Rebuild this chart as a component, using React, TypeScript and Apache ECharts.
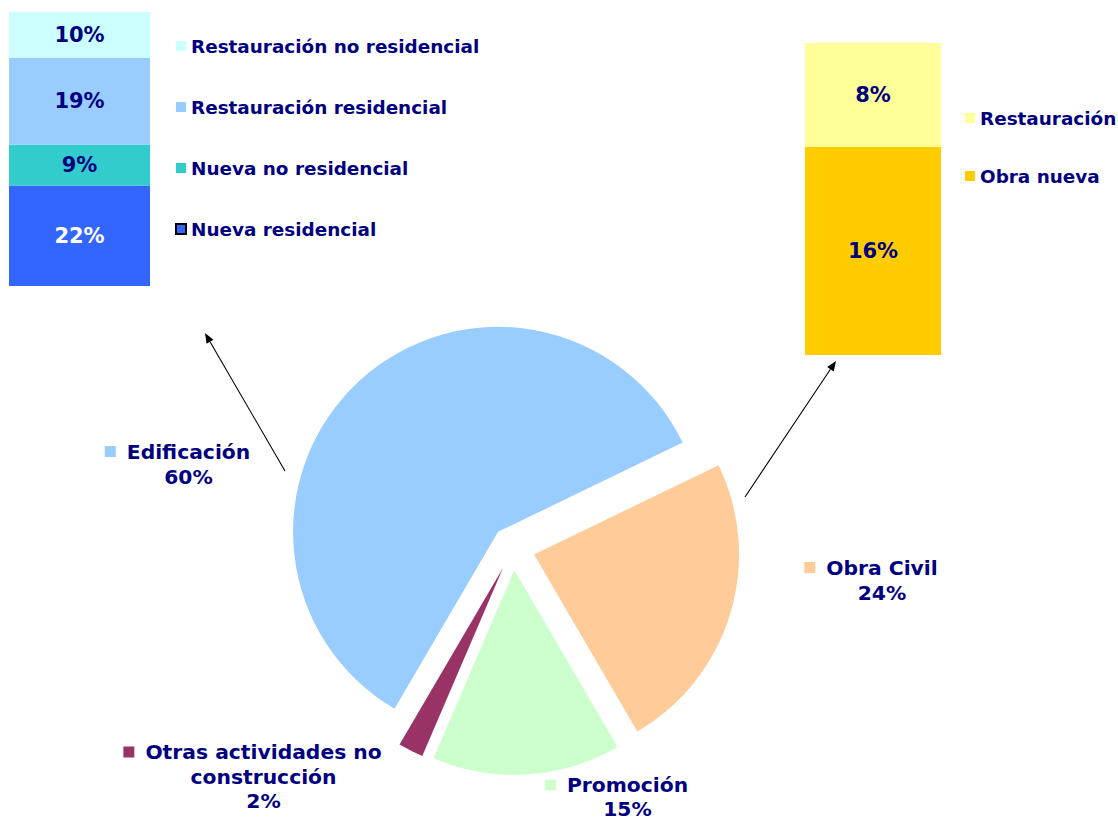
import React, { useEffect, useRef } from "react";
import * as echarts from "echarts";

// Pie data (clockwise from start angle)
const pieNames = ["Obra Civil", "Promoción", "Otras actividades no construcción", "Edificación"];
const pieLabelLines = [["Obra Civil"], ["Promoción"], ["Otras actividades no", "construcción"], ["Edificación"]];
const pieValues = [24, 15, 2, 60];
const pieColors = ["#FFCC99", "#CCFFCC", "#993366", "#99CCFF"];

// Edificación breakdown (bottom to top)
const edifNames = ["Nueva residencial", "Nueva no residencial", "Restauración residencial", "Restauración no residencial"];
const edifValues = [22, 9, 19, 10];
const edifColors = ["#3366FF", "#33CCCC", "#99CCFF", "#CCFFFF"];
const edifLabelColors = ["#FFFFFF", "#000080", "#000080", "#000080"];

// Obra civil breakdown (bottom to top)
const civilNames = ["Obra nueva", "Restauración"];
const civilValues = [16, 8];
const civilColors = ["#FFCC00", "#FFFF99"];

// layout constants
const NAVY = "#000080";
const FONT = "DejaVu Sans, Verdana, sans-serif";
const LEG_FS = 18.4;
const PIE_FS = 20.3;
const BAR_FS = 21;
const pieLabelPos = [
  [882, 580],
  [627.5, 797],
  [263.5, 776.5],
  [188.5, 464],
];
const pieLabelLH = [25, 24, 24.5, 25];
const arrows = [
  { from: [285, 471], to: [205, 333] },
  { from: [745, 497], to: [836, 361] },
];

function arrowGraphics() {
  const out: any[] = [];
  arrows.forEach((a) => {
    const dx = a.to[0] - a.from[0];
    const dy = a.to[1] - a.from[1];
    const len = Math.sqrt(dx * dx + dy * dy);
    const ux = dx / len;
    const uy = dy / len;
    const hl = 10;
    const hw = 4;
    const bx = a.to[0] - hl * ux;
    const by = a.to[1] - hl * uy;
    out.push({
      type: "line",
      shape: { x1: a.from[0], y1: a.from[1], x2: bx, y2: by },
      style: { stroke: "#000", lineWidth: 1.1 },
      silent: true,
    });
    out.push({
      type: "polygon",
      shape: {
        points: [
          [a.to[0], a.to[1]],
          [bx - hw * uy, by + hw * ux],
          [bx + hw * uy, by - hw * ux],
        ],
      },
      style: { fill: "#000" },
      silent: true,
    });
  });
  return out;
}

function pieLabelGraphics() {
  return pieNames.map((_, i) => {
    const lines = pieLabelLines[i];
    const lh = pieLabelLH[i];
    const first = `{k| }{g| }{t|${lines[0]}}{s| }`;
    const rest = lines.slice(1).map((l) => `{t|${l}}`);
    const text = [first, ...rest, `{t|${pieValues[i]}%}`].join("\n");
    return {
      type: "text",
      x: pieLabelPos[i][0],
      y: pieLabelPos[i][1],
      silent: true,
      style: {
        text,
        align: "center",
        verticalAlign: "middle",
        fontFamily: FONT,
        fontWeight: "bold",
        fontSize: PIE_FS,
        fill: NAVY,
        rich: {
          t: { fontFamily: FONT, fontWeight: "bold", fontSize: PIE_FS, fill: NAVY, lineHeight: lh },
          k: { width: 11, height: 11, backgroundColor: pieColors[i], lineHeight: lh },
          g: { width: 11, height: 11, lineHeight: lh },
          s: { width: 22, height: 11, lineHeight: lh },
        },
      },
    };
  });
}

export default function App() {
  const ref = useRef<HTMLDivElement>(null);
  useEffect(() => {
    if (!ref.current) return;
    const chart = echarts.init(ref.current, undefined, { renderer: "svg" });
    const legText = { fontFamily: FONT, fontWeight: "bold" as const, fontSize: LEG_FS, color: NAVY, lineHeight: 20 };

    const barSeries = (names: string[], values: number[], colors: string[], labelColors: string[] | null, stack: string, axisIdx: number) =>
      names.map((n, i) => ({
        type: "bar",
        name: n,
        stack,
        xAxisIndex: axisIdx,
        yAxisIndex: axisIdx,
        barWidth: "100%",
        data: [values[i]],
        itemStyle: { color: colors[i] },
        label: {
          show: true,
          position: "inside",
          formatter: "{c}%",
          fontFamily: FONT,
          fontWeight: "bold",
          fontSize: BAR_FS,
          color: labelColors ? labelColors[i] : NAVY,
        },
        emphasis: { disabled: true },
        silent: true,
      }));

    chart.setOption({
      animation: false,
      backgroundColor: "#FFFFFF",
      grid: [
        { left: 9, top: 12, width: 141, height: 274 },
        { left: 805, top: 43, width: 136, height: 312 },
      ],
      xAxis: [
        { type: "category", data: [""], gridIndex: 0, show: false },
        { type: "category", data: [""], gridIndex: 1, show: false },
      ],
      yAxis: [
        { type: "value", min: 0, max: 60, gridIndex: 0, show: false },
        { type: "value", min: 0, max: 24, gridIndex: 1, show: false },
      ],
      legend: [
        {
          orient: "vertical",
          left: 170,
          top: 31,
          itemWidth: 10,
          itemHeight: 10,
          itemGap: 41,
          icon: "rect",
          selectedMode: false,
          textStyle: legText,
          data: [
            edifNames[3],
            edifNames[2],
            edifNames[1],
            { name: edifNames[0], itemStyle: { borderColor: "#000", borderWidth: 2 } },
          ],
        },
        {
          orient: "vertical",
          left: 960,
          top: 103,
          itemWidth: 10,
          itemHeight: 10,
          itemGap: 38,
          icon: "rect",
          selectedMode: false,
          textStyle: legText,
          data: [civilNames[1], civilNames[0]],
        },
      ],
      series: [
        ...barSeries(edifNames, edifValues, edifColors, edifLabelColors, "edif", 0),
        ...barSeries(civilNames, civilValues, civilColors, null, "civil", 1),
        {
          type: "pie",
          center: [513, 548],
          radius: 205,
          startAngle: 25.8,
          clockwise: true,
          selectedMode: "multiple",
          selectedOffset: 22,
          silent: true,
          emphasis: { disabled: true },
          itemStyle: { borderWidth: 0 },
          data: pieNames.map((n, i) => ({
            name: n,
            value: pieValues[i],
            selected: true,
            itemStyle: { color: pieColors[i] },
          })),
          label: { show: false },
          labelLine: { show: false },
        },
      ],
      graphic: [...arrowGraphics(), ...pieLabelGraphics()],
    });
    return () => chart.dispose();
  }, []);
  return (
    <div
      ref={ref}
      style={{ position: "fixed", left: 0, top: 0, width: 1118, height: 821, background: "#fff" }}
    />
  );
}
